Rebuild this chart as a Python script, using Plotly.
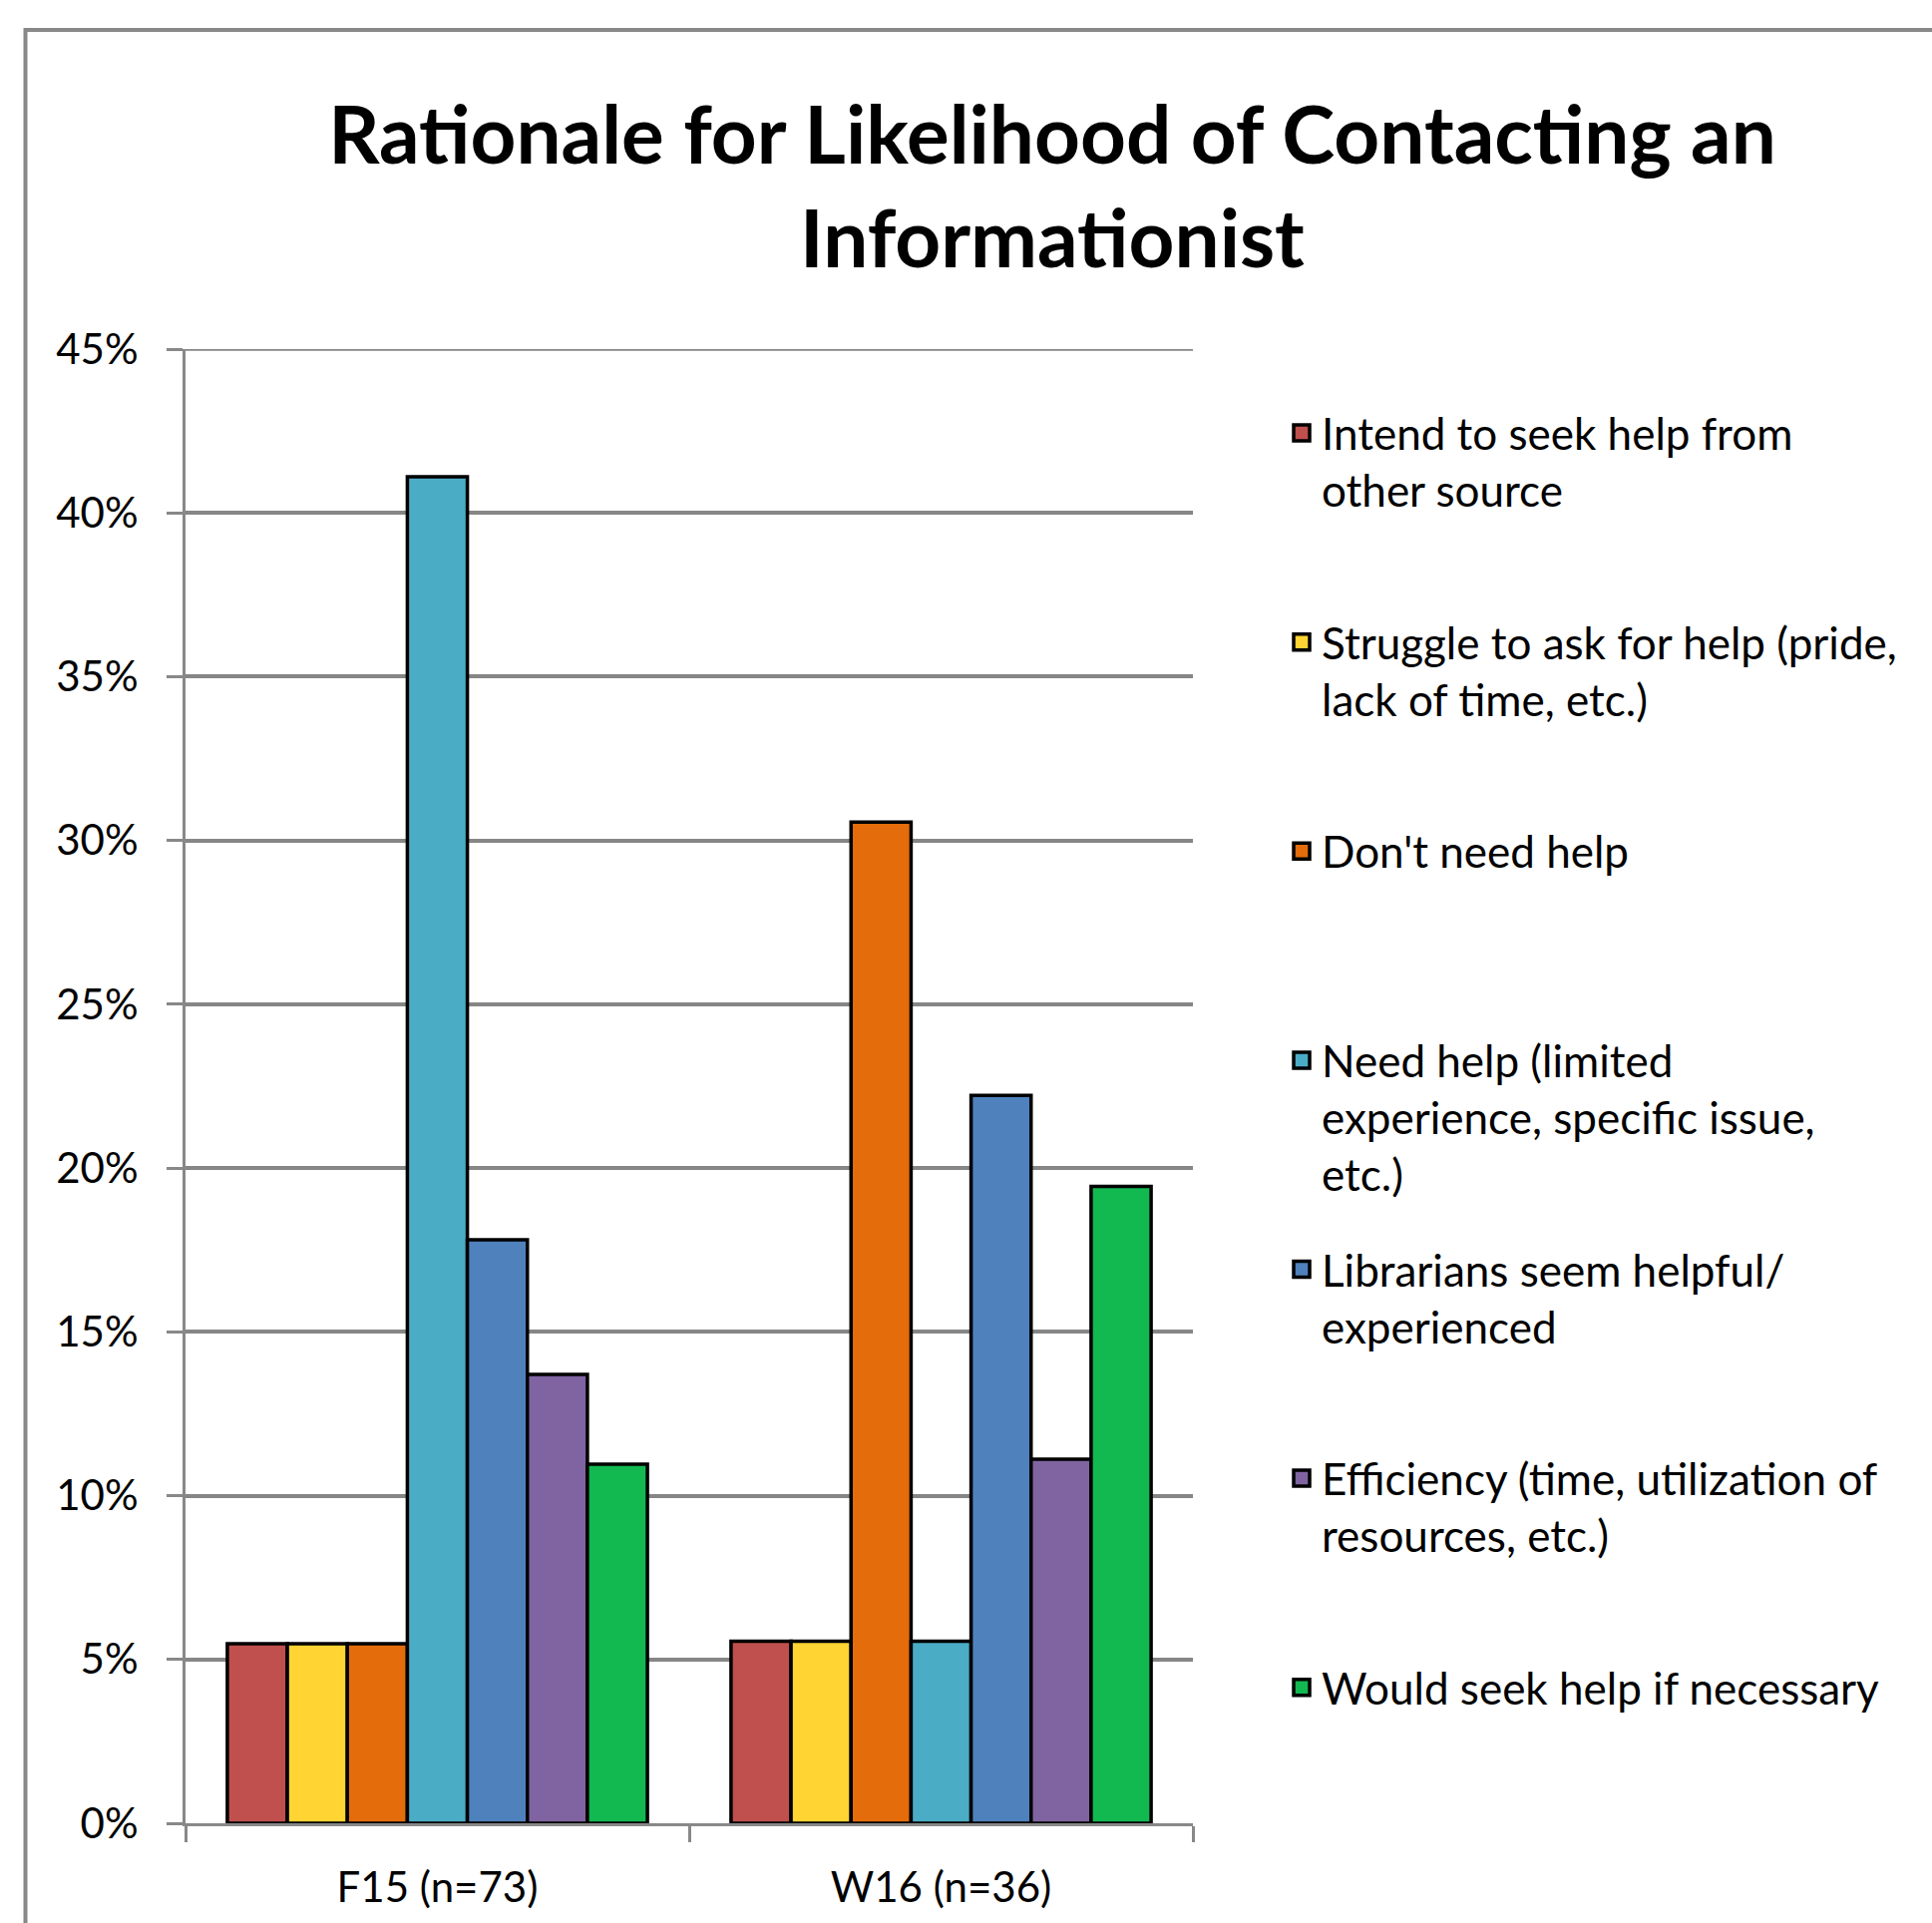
import plotly.graph_objects as go

categories = ["F15 (n=73)", "W16 (n=36)"]
series_names = [
    "Intend to seek help from<br>other source",
    "Struggle to ask for help (pride,<br>lack of time, etc.)",
    "Don't need help",
    "Need help (limited<br>experience, specific issue,<br>etc.)",
    "Librarians seem helpful/<br>experienced",
    "Efficiency (time, utilization of<br>resources, etc.)",
    "Would seek help if necessary",
]
intend_other = [5.48, 5.56]
struggle_ask = [5.48, 5.56]
dont_need = [5.48, 30.56]
need_help = [41.10, 5.56]
librarians_helpful = [17.81, 22.22]
efficiency = [13.70, 11.11]
would_seek = [10.96, 19.44]
series_values = [intend_other, struggle_ask, dont_need, need_help,
                 librarians_helpful, efficiency, would_seek]
colors = ["#C0504D", "#FFD433", "#E46C0A", "#4BACC6", "#4F81BD", "#8064A2", "#12B950"]
y_ticks = [0, 5, 10, 15, 20, 25, 30, 35, 40, 45]
y_max = 45

W, H = 1937, 1928
L, R, T, B = 186, 1196, 350, 1828

def pad(name, n=3):
    k = name.count("<br>") + 1
    return name + "<br> " * (n - k)

fig = go.Figure()
for i, (nm, vals, c) in enumerate(zip(series_names, series_values, colors)):
    fig.add_trace(go.Bar(
        x=categories, y=vals, name=nm.replace("<br>", " "), legendgroup=f"g{i}",
        showlegend=False,
        marker=dict(color=c, line=dict(color="black", width=3.5)),
    ))
    # legend entry for the same series (larger square swatch, like the original)
    fig.add_trace(go.Scatter(
        x=[None], y=[None], mode="markers", name=pad(nm), legendgroup=f"g{i}",
        showlegend=True, hoverinfo="skip",
        marker=dict(symbol="square", size=16, color=c, line=dict(color="black", width=3.5)),
    ))

def px_x(p):
    return (p - L) / (R - L)

def px_y(p):
    return (B - p) / (B - T)

fig.update_layout(
    width=W, height=H,
    margin=dict(l=L, r=W - R, t=T, b=H - B),
    paper_bgcolor="white", plot_bgcolor="white",
    font=dict(family="Lato", color="black", size=42),
    barmode="group", bargap=0.166, bargroupgap=0,
    title=dict(
        text="<b>Rationale for Likelihood of Contacting an<br>Informationist</b>",
        font=dict(family="Lato", size=80, color="black"),
        x=1055 / W, xanchor="center", xref="container",
        y=1 - 164 / H, yanchor="middle", yref="container",
    ),
    showlegend=True,
    legend=dict(
        x=px_x(1285), xanchor="left", y=px_y(399), yanchor="top",
        font=dict(family="Lato", size=44, color="black"),
        valign="top", tracegroupgap=35, traceorder="grouped",
        bgcolor="rgba(0,0,0,0)", itemsizing="trace",
    ),
    xaxis=dict(
        showline=True, linecolor="#888888", linewidth=3,
        ticks="outside", tickson="boundaries", ticklen=16, tickwidth=3, tickcolor="#888888",
        tickfont=dict(family="Lato", size=42, color="black"),
        showgrid=False, ticklabelstandoff=26,
    ),
    yaxis=dict(
        range=[0, y_max], tickvals=y_ticks, ticktext=[f"{v}%" for v in y_ticks],
        showline=True, linecolor="#888888", linewidth=3,
        ticks="outside", ticklen=16, tickwidth=3, tickcolor="#888888",
        showgrid=True, gridcolor="#868686", gridwidth=3.7,
        zeroline=False,
        tickfont=dict(family="Lato", size=42, color="black"),
        ticklabelstandoff=20,
    ),
    shapes=[
        dict(
            type="rect", xref="paper", yref="paper",
            x0=px_x(25.5), x1=px_x(2300), y0=px_y(30), y1=px_y(2300),
            line=dict(color="#888888", width=4), fillcolor="rgba(0,0,0,0)", layer="below",
        ),
        # top gridline at the upper end of the axis range
        dict(
            type="line", xref="paper", yref="y", x0=0, x1=1, y0=y_max, y1=y_max,
            line=dict(color="#868686", width=3.7), layer="below",
        ),
    ],
)

fig.write_html("out.html")
